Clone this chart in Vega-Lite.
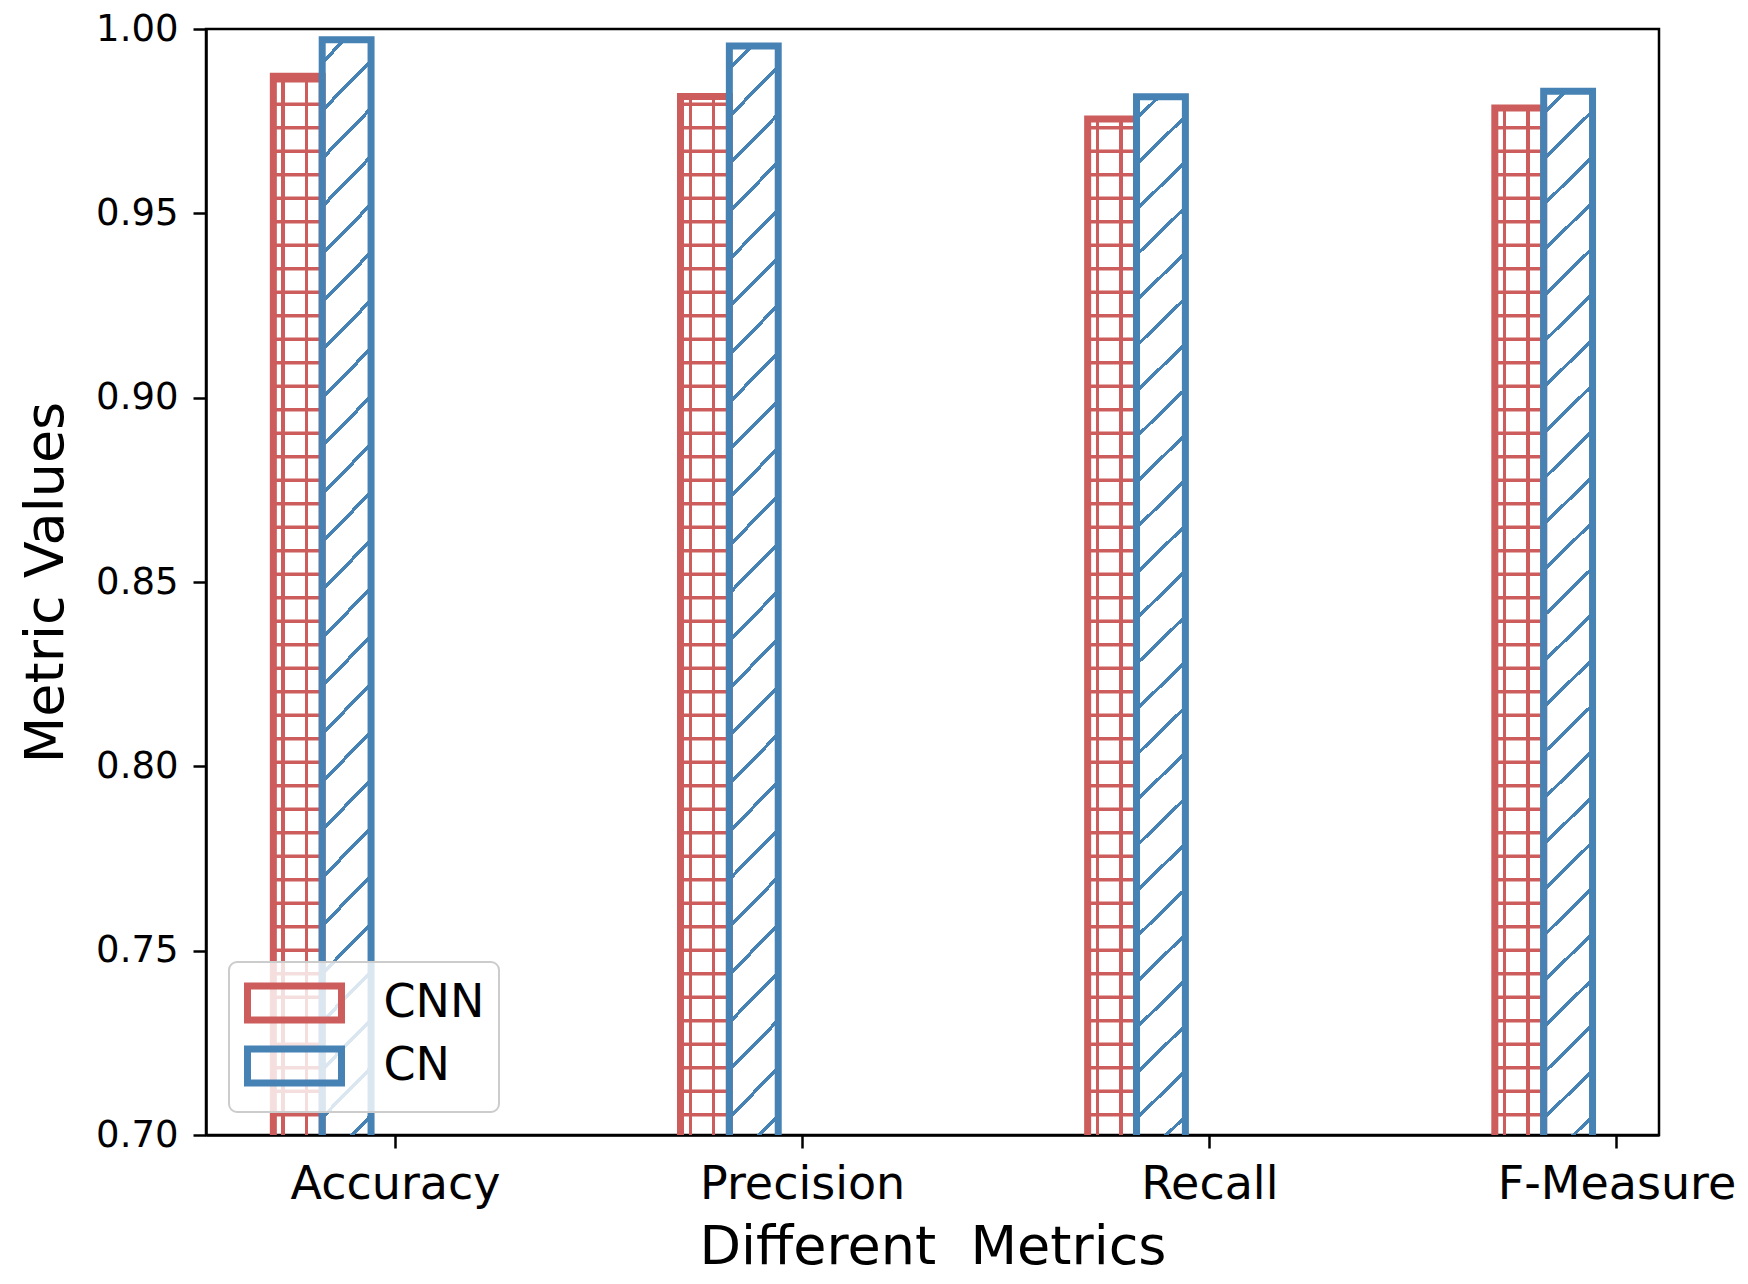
{
  "$schema": "https://vega.github.io/schema/vega-lite/v6.json",
  "width": 1453,
  "height": 1106,
  "autosize": {"type": "none"},
  "padding": {"left": 206, "top": 29, "right": 89, "bottom": 149},
  "background": "white",
  "config": {
    "font": "DejaVu Sans",
    "view": {"stroke": "black", "strokeWidth": 2.5},
    "axis": {
      "domainColor": "black", "domainWidth": 2.5, "tickColor": "black", "tickWidth": 2.5, "tickSize": 13,
      "labelColor": "black", "titleColor": "black", "titleFontWeight": "normal", "grid": false, "zindex": 1,
      "labelFont": "DejaVu Sans", "titleFont": "DejaVu Sans", "labelLimit": 500
    },
    "legend": {
      "orient": "bottom-left", "offset": 23, "padding": 14, "rowPadding": -1,
      "fillColor": "rgba(255,255,255,0.8)", "strokeColor": "#cccccc", "strokeWidth": 2, "cornerRadius": 8,
      "symbolType": "M-2,-0.724L2,-0.724L2,0.724L-2,0.724Z", "symbolSize": 2209, "symbolStrokeWidth": 7, "symbolOffset": 24.5,
      "labelFontSize": 46, "labelColor": "black", "labelFont": "DejaVu Sans", "labelOffset": 62
    }
  },
  "data": {
    "values": [
      {"metric": "Accuracy", "model": "CNN", "value": 0.9872},
      {"metric": "Accuracy", "model": "CN", "value": 0.9971},
      {"metric": "Precision", "model": "CNN", "value": 0.9817},
      {"metric": "Precision", "model": "CN", "value": 0.9954},
      {"metric": "Recall", "model": "CNN", "value": 0.9756},
      {"metric": "Recall", "model": "CN", "value": 0.9816},
      {"metric": "F-Measure", "model": "CNN", "value": 0.9786},
      {"metric": "F-Measure", "model": "CN", "value": 0.9831}
    ]
  },
  "encoding": {
    "x": {
      "field": "metric", "type": "nominal",
      "scale": {"domain": ["Accuracy", "Precision", "Recall", "F-Measure"], "paddingInner": 0.64, "paddingOuter": 0.1043, "align": 0.7928},
      "axis": {"title": "Different\u00a0 Metrics", "bandPosition": 0.8333, "labelAngle": 0, "labelAlign": "center", "labelOffset": 48.86, "labelFontSize": 46, "labelPadding": 14, "titleFontSize": 54, "titlePadding": 13}
    },
    "xOffset": {
      "field": "model", "type": "nominal",
      "scale": {"domain": ["CNN", "CN", "_"], "paddingInner": 0, "paddingOuter": 0}
    },
    "y": {
      "field": "value", "type": "quantitative",
      "scale": {"domain": [0.7, 1.0], "nice": false, "zero": false},
      "axis": {"title": "Metric Values", "values": [0.7, 0.75, 0.8, 0.85, 0.9, 0.95, 1.0], "format": ".2f", "labelFontSize": 37, "labelPadding": 15, "titleFontSize": 54, "titlePadding": 22}
    }
  },
  "layer": [
    {
      "transform": [{"filter": "datum.model === 'CNN'"}],
      "mark": {"type": "rule", "color": "#cd5c5c", "strokeWidth": 48.86, "strokeDash": [3.5, 20], "strokeDashOffset": 5, "strokeCap": "butt"},
      "encoding": {
        "y": {"datum": 0.7, "type": "quantitative"},
        "y2": {"field": "value"}
      }
    },
    {
      "transform": [{"filter": "datum.model === 'CNN'"}],
      "mark": {
        "type": "bar", "strokeWidth": 0,
        "fill": {"gradient": "linear", "x1": 0, "y1": 0, "x2": 1, "y2": 0, "stops": [
          {"offset": 0.1642, "color": "rgba(205,92,92,0)"}, {"offset": 0.1642, "color": "#cd5c5c"},
          {"offset": 0.2358, "color": "#cd5c5c"}, {"offset": 0.2358, "color": "rgba(205,92,92,0)"},
          {"offset": 0.6442, "color": "rgba(205,92,92,0)"}, {"offset": 0.6442, "color": "#cd5c5c"},
          {"offset": 0.7158, "color": "#cd5c5c"}, {"offset": 0.7158, "color": "rgba(205,92,92,0)"}
        ]}
      },
      "encoding": {"y2": {"datum": 0.7}}
    },
    {
      "transform": [{"filter": "datum.model === 'CN'"}],
      "mark": {
        "type": "bar", "strokeWidth": 0,
        "fill": {"gradient": "linear", "x1": 0, "y1": 0, "x2": 0.04783, "y2": 1.0437, "stops": [
          {"offset": 0.0178, "color": "rgba(70,130,180,0)"}, {"offset": 0.0178, "color": "#4682b4"}, {"offset": 0.0222, "color": "#4682b4"}, {"offset": 0.0222, "color": "rgba(70,130,180,0)"},
          {"offset": 0.0597, "color": "rgba(70,130,180,0)"}, {"offset": 0.0597, "color": "#4682b4"}, {"offset": 0.0641, "color": "#4682b4"}, {"offset": 0.0641, "color": "rgba(70,130,180,0)"},
          {"offset": 0.1015, "color": "rgba(70,130,180,0)"}, {"offset": 0.1015, "color": "#4682b4"}, {"offset": 0.1059, "color": "#4682b4"}, {"offset": 0.1059, "color": "rgba(70,130,180,0)"},
          {"offset": 0.1434, "color": "rgba(70,130,180,0)"}, {"offset": 0.1434, "color": "#4682b4"}, {"offset": 0.1478, "color": "#4682b4"}, {"offset": 0.1478, "color": "rgba(70,130,180,0)"},
          {"offset": 0.1852, "color": "rgba(70,130,180,0)"}, {"offset": 0.1852, "color": "#4682b4"}, {"offset": 0.1896, "color": "#4682b4"}, {"offset": 0.1896, "color": "rgba(70,130,180,0)"},
          {"offset": 0.2271, "color": "rgba(70,130,180,0)"}, {"offset": 0.2271, "color": "#4682b4"}, {"offset": 0.2315, "color": "#4682b4"}, {"offset": 0.2315, "color": "rgba(70,130,180,0)"},
          {"offset": 0.2690, "color": "rgba(70,130,180,0)"}, {"offset": 0.2690, "color": "#4682b4"}, {"offset": 0.2734, "color": "#4682b4"}, {"offset": 0.2734, "color": "rgba(70,130,180,0)"},
          {"offset": 0.3108, "color": "rgba(70,130,180,0)"}, {"offset": 0.3108, "color": "#4682b4"}, {"offset": 0.3152, "color": "#4682b4"}, {"offset": 0.3152, "color": "rgba(70,130,180,0)"},
          {"offset": 0.3527, "color": "rgba(70,130,180,0)"}, {"offset": 0.3527, "color": "#4682b4"}, {"offset": 0.3571, "color": "#4682b4"}, {"offset": 0.3571, "color": "rgba(70,130,180,0)"},
          {"offset": 0.3945, "color": "rgba(70,130,180,0)"}, {"offset": 0.3945, "color": "#4682b4"}, {"offset": 0.3989, "color": "#4682b4"}, {"offset": 0.3989, "color": "rgba(70,130,180,0)"},
          {"offset": 0.4364, "color": "rgba(70,130,180,0)"}, {"offset": 0.4364, "color": "#4682b4"}, {"offset": 0.4408, "color": "#4682b4"}, {"offset": 0.4408, "color": "rgba(70,130,180,0)"},
          {"offset": 0.4783, "color": "rgba(70,130,180,0)"}, {"offset": 0.4783, "color": "#4682b4"}, {"offset": 0.4827, "color": "#4682b4"}, {"offset": 0.4827, "color": "rgba(70,130,180,0)"},
          {"offset": 0.5201, "color": "rgba(70,130,180,0)"}, {"offset": 0.5201, "color": "#4682b4"}, {"offset": 0.5245, "color": "#4682b4"}, {"offset": 0.5245, "color": "rgba(70,130,180,0)"},
          {"offset": 0.5620, "color": "rgba(70,130,180,0)"}, {"offset": 0.5620, "color": "#4682b4"}, {"offset": 0.5664, "color": "#4682b4"}, {"offset": 0.5664, "color": "rgba(70,130,180,0)"},
          {"offset": 0.6038, "color": "rgba(70,130,180,0)"}, {"offset": 0.6038, "color": "#4682b4"}, {"offset": 0.6082, "color": "#4682b4"}, {"offset": 0.6082, "color": "rgba(70,130,180,0)"},
          {"offset": 0.6457, "color": "rgba(70,130,180,0)"}, {"offset": 0.6457, "color": "#4682b4"}, {"offset": 0.6501, "color": "#4682b4"}, {"offset": 0.6501, "color": "rgba(70,130,180,0)"},
          {"offset": 0.6876, "color": "rgba(70,130,180,0)"}, {"offset": 0.6876, "color": "#4682b4"}, {"offset": 0.6920, "color": "#4682b4"}, {"offset": 0.6920, "color": "rgba(70,130,180,0)"},
          {"offset": 0.7294, "color": "rgba(70,130,180,0)"}, {"offset": 0.7294, "color": "#4682b4"}, {"offset": 0.7338, "color": "#4682b4"}, {"offset": 0.7338, "color": "rgba(70,130,180,0)"},
          {"offset": 0.7713, "color": "rgba(70,130,180,0)"}, {"offset": 0.7713, "color": "#4682b4"}, {"offset": 0.7757, "color": "#4682b4"}, {"offset": 0.7757, "color": "rgba(70,130,180,0)"},
          {"offset": 0.8131, "color": "rgba(70,130,180,0)"}, {"offset": 0.8131, "color": "#4682b4"}, {"offset": 0.8175, "color": "#4682b4"}, {"offset": 0.8175, "color": "rgba(70,130,180,0)"},
          {"offset": 0.8550, "color": "rgba(70,130,180,0)"}, {"offset": 0.8550, "color": "#4682b4"}, {"offset": 0.8594, "color": "#4682b4"}, {"offset": 0.8594, "color": "rgba(70,130,180,0)"},
          {"offset": 0.8969, "color": "rgba(70,130,180,0)"}, {"offset": 0.8969, "color": "#4682b4"}, {"offset": 0.9013, "color": "#4682b4"}, {"offset": 0.9013, "color": "rgba(70,130,180,0)"},
          {"offset": 0.9387, "color": "rgba(70,130,180,0)"}, {"offset": 0.9387, "color": "#4682b4"}, {"offset": 0.9431, "color": "#4682b4"}, {"offset": 0.9431, "color": "rgba(70,130,180,0)"},
          {"offset": 0.9806, "color": "rgba(70,130,180,0)"}, {"offset": 0.9806, "color": "#4682b4"}, {"offset": 0.9850, "color": "#4682b4"}, {"offset": 0.9850, "color": "rgba(70,130,180,0)"}
        ]}
      },
      "encoding": {"y2": {"datum": 0.7}}
    },
    {
      "mark": {"type": "bar", "fill": "transparent", "strokeWidth": 7, "clip": true},
      "encoding": {
        "y2": {"datum": 0.69},
        "stroke": {
          "field": "model", "type": "nominal",
          "scale": {"domain": ["CNN", "CN"], "range": ["#cd5c5c", "#4682b4"]},
          "legend": {
            "title": null,
            "encode": {
              "symbols": {
                "update": {
                  "fill": [
                    {"test": "datum.value === 'CNN'", "value": {"gradient": "linear", "x1": 0, "y1": 0, "x2": 1, "y2": 0, "stops": [
                      {"offset": 0.250, "color": "rgba(205,92,92,0)"}, {"offset": 0.250, "color": "#cd5c5c"}, {"offset": 0.290, "color": "#cd5c5c"}, {"offset": 0.290, "color": "rgba(205,92,92,0)"},
                      {"offset": 0.480, "color": "rgba(205,92,92,0)"}, {"offset": 0.480, "color": "#cd5c5c"}, {"offset": 0.520, "color": "#cd5c5c"}, {"offset": 0.520, "color": "rgba(205,92,92,0)"},
                      {"offset": 0.710, "color": "rgba(205,92,92,0)"}, {"offset": 0.710, "color": "#cd5c5c"}, {"offset": 0.750, "color": "#cd5c5c"}, {"offset": 0.750, "color": "rgba(205,92,92,0)"}
                    ]}},
                    {"value": {"gradient": "linear", "x1": 0, "y1": 0, "x2": 1.204, "y2": 0.436, "stops": [
                      {"offset": 0.118, "color": "rgba(70,130,180,0)"}, {"offset": 0.118, "color": "#4682b4"}, {"offset": 0.152, "color": "#4682b4"}, {"offset": 0.152, "color": "rgba(70,130,180,0)"},
                      {"offset": 0.483, "color": "rgba(70,130,180,0)"}, {"offset": 0.483, "color": "#4682b4"}, {"offset": 0.517, "color": "#4682b4"}, {"offset": 0.517, "color": "rgba(70,130,180,0)"},
                      {"offset": 0.848, "color": "rgba(70,130,180,0)"}, {"offset": 0.848, "color": "#4682b4"}, {"offset": 0.882, "color": "#4682b4"}, {"offset": 0.882, "color": "rgba(70,130,180,0)"}
                    ]}}
                  ]
                }
              }
            }
          }
        }
      }
    }
  ]
}
